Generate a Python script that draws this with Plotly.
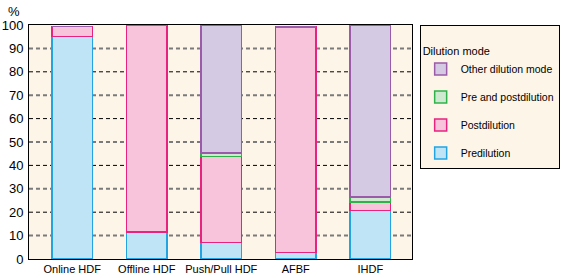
import plotly.graph_objects as go

categories = ["Online HDF", "Offline HDF", "Push/Pull HDF", "AFBF", "IHDF"]
predilution = [95.0, 11.5, 7.1, 2.7, 20.7]
postdilution = [4.3, 88.5, 36.6, 96.4, 3.6]
pre_and_post = [0.0, 0.0, 1.5, 0.0, 2.3]
other_mode = [0.0, 0.0, 54.8, 0.0, 73.4]
y_ticks = [0, 10, 20, 30, 40, 50, 60, 70, 80, 90, 100]

series = [
    ("Predilution", predilution, "#bfe4f6", "#22a4e2", 4),
    ("Postdilution", postdilution, "#f7c4dc", "#e8237f", 3),
    ("Pre and postdilution", pre_and_post, "#cfe9d0", "#2fb24a", 2),
    ("Other dilution mode", other_mode, "#d5cae4", "#9a5ba8", 1),
]

fig = go.Figure()
for name, vals, fill, line, rank in series:
    fig.add_trace(go.Bar(
        x=categories, y=vals, name=name,
        marker=dict(color=fill, line=dict(color=line, width=1.5)),
        width=0.54, legendrank=rank, legendgroup=name,
    ))

# alternating dashed gridlines (grey thick / black thin)
for v in y_ticks[1:-1]:
    grey = (v // 10) % 2 == 1
    fig.add_shape(type="line", xref="paper", x0=0, x1=1, yref="y", y0=v, y1=v,
                  layer="below",
                  line=dict(color="#7a7a7a" if grey else "#000000",
                            width=2 if grey else 1, dash="4px,3px"))

fig.add_annotation(text="%", xref="paper", yref="paper", x=-0.038, y=1.0,
                   xanchor="center", yanchor="bottom", yshift=4, showarrow=False,
                   font=dict(size=13, color="#000"))

fig.update_layout(
    width=568, height=278,
    margin=dict(l=29, r=156, t=25, b=19, autoexpand=False),
    barmode="stack",
    plot_bgcolor="#fef5e9", paper_bgcolor="white",
    font=dict(family="Liberation Sans, Arial, sans-serif", color="#000"),
    showlegend=True,
    legend=dict(
        title=dict(text="<span style='font-size:3px'> </span><br>Dilution mode",
                   font=dict(size=11)),
        x=1.02, y=1.0, xanchor="left", yanchor="top",
        bgcolor="#fef5e9", bordercolor="#000", borderwidth=1,
        font=dict(size=10.5), traceorder="grouped",
        tracegroupgap=9,
    ),
    xaxis=dict(
        range=[-0.58, 4.56], showgrid=False, showline=True, linecolor="#000",
        linewidth=1, mirror=True, ticks="", tickfont=dict(size=11),
        automargin=False,
    ),
    yaxis=dict(
        range=[0, 100], tickvals=y_ticks, showgrid=False, zeroline=False,
        showline=True, linecolor="#000", linewidth=1, mirror=True,
        ticks="", tickfont=dict(size=13), ticklabelstandoff=2,
        automargin=False,
    ),
)

fig.write_html("out.html", config={"displayModeBar": False},
               post_script="document.body.style.margin='0';")
